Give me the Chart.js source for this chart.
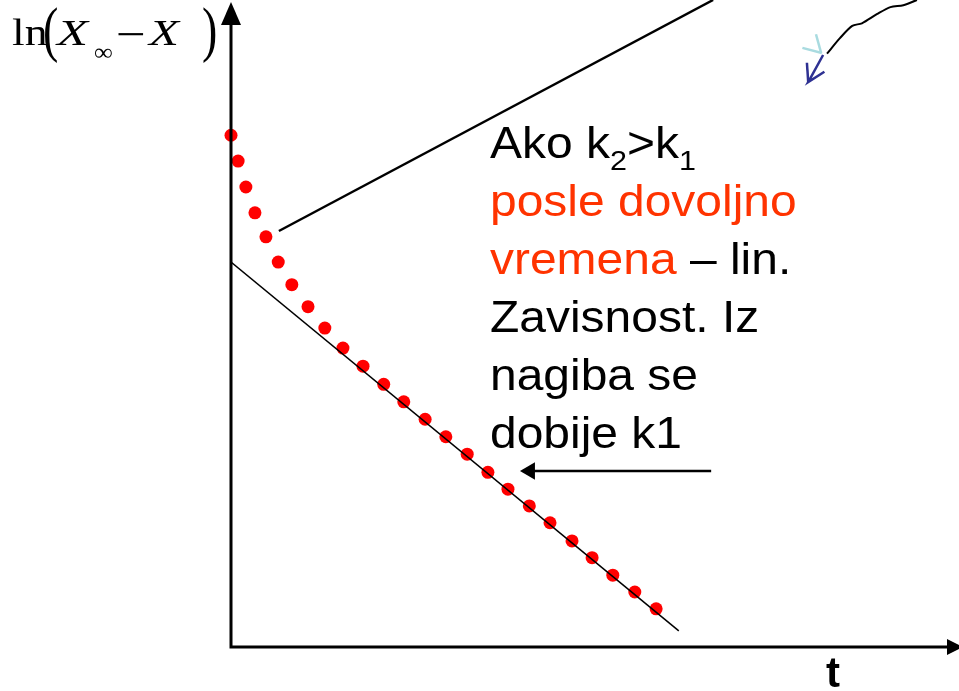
<!DOCTYPE html>
<html>
<head>
<meta charset="utf-8">
<script src="https://cdn.jsdelivr.net/npm/chart.js@4"></script>
<style>
  html, body { margin: 0; padding: 0; background: #fff; }
  canvas { display: block; }
</style>
</head>
<body>
<canvas id="grafik" width="959" height="691"></canvas>
<script>
// izmerene tacke: ln(Xinf - X) u zavisnosti od t
const vremena = [0, 0.11, 0.23, 0.37, 0.54, 0.73, 0.94, 1.19, 1.45, 1.73, 2.04, 2.36, 2.67,
  3.00, 3.32, 3.65, 3.97, 4.28, 4.61, 4.93, 5.27, 5.58, 5.90, 6.24, 6.57];
const lnVrednosti = [7.91, 7.51, 7.11, 6.71, 6.34, 5.95, 5.60, 5.26, 4.93, 4.62, 4.34, 4.06, 3.79,
  3.52, 3.25, 2.98, 2.70, 2.44, 2.18, 1.92, 1.64, 1.38, 1.11, 0.85, 0.59];

// prava za linearni deo (nagib -> k1)
const pravaT = [0, 6.92];
const pravaY = [5.95, 0.25];

// linija od teksta ka gornjem uglu
const gornjaT = [0.74, 7.45];
const gornjaY = [6.43, 10.0];

// krivulja u gornjem desnom uglu
const krivaT = [9.21, 9.41, 9.60, 9.75, 9.98, 10.19, 10.39, 10.60];
const krivaY = [9.17, 9.41, 9.60, 9.64, 9.78, 9.89, 9.92, 10.0];

// svetloplava i tamnoplava strelica
const svetlaT = [[8.83, 9.13], [9.04, 9.12]];
const svetlaY = [[9.26, 9.18], [9.47, 9.18]];
const tamnaT = [[9.15, 8.92, 9.17], [8.92, 8.90]];
const tamnaY = [[9.15, 8.73, 8.89], [8.73, 9.03]];

// strelica koja pokazuje na linearni deo
const strelicaT = [7.42, 4.60];
const strelicaY = [2.72, 2.72];
const vrhStreliceT = [4.62];
const vrhStreliceY = [2.72];

const tMax = 11.25;
const yMax = 10;

const tacke = (xs, ys) => xs.map((x, i) => ({ x: x, y: ys[i] }));

function linija(xs, ys, boja, debljina) {
  return {
    type: "line",
    data: tacke(xs, ys),
    borderColor: boja,
    borderWidth: debljina,
    pointRadius: 0,
    fill: false,
    tension: 0,
  };
}

const sans = 'Arial, "Liberation Sans", sans-serif';
const serif = '"Times New Roman", "Liberation Serif", serif';

// tekst razvucen po horizontali (sx) i vertikali (sy)
function razvucen(ctx, tekst, x, y, font, sx, sy) {
  ctx.save();
  ctx.translate(x, y);
  ctx.scale(sx, sy || 1);
  ctx.font = font;
  ctx.fillText(tekst, 0, 0);
  ctx.restore();
}

// crta niz delova teksta jedan za drugim u istom redu
function redTeksta(ctx, x, y, delovi) {
  ctx.save();
  ctx.translate(x, y);
  ctx.scale(1.09, 1);
  let px = 0;
  for (const d of delovi) {
    ctx.font = d.font;
    ctx.fillStyle = d.boja || "#000";
    ctx.fillText(d.tekst, px, d.dy || 0);
    px += ctx.measureText(d.tekst).width;
  }
  ctx.restore();
}

const oznake = {
  id: "oznake",
  afterDatasetsDraw(chart) {
    const ctx = chart.ctx;
    const a = chart.chartArea;
    ctx.save();

    // ose sa strelicama
    ctx.strokeStyle = "#000";
    ctx.fillStyle = "#000";
    ctx.lineWidth = 3;
    ctx.beginPath();
    ctx.moveTo(a.left, a.bottom);
    ctx.lineTo(a.left, a.top + 20);
    ctx.moveTo(a.left - 1.5, a.bottom);
    ctx.lineTo(a.right - 10, a.bottom);
    ctx.stroke();
    ctx.beginPath();
    ctx.moveTo(a.left, a.top + 2);
    ctx.lineTo(a.left - 10, a.top + 25);
    ctx.lineTo(a.left + 10, a.top + 25);
    ctx.closePath();
    ctx.fill();
    ctx.beginPath();
    ctx.moveTo(a.right + 4, a.bottom);
    ctx.lineTo(a.right - 12, a.bottom - 8);
    ctx.lineTo(a.right - 12, a.bottom + 8);
    ctx.closePath();
    ctx.fill();

    ctx.textBaseline = "alphabetic";

    // naziv y ose: ln(X∞ − X)
    razvucen(ctx, "ln", 12, 45, "38px " + serif, 1.2);
    razvucen(ctx, "(", 43, 50, "46px " + serif, 1, 1.35);
    razvucen(ctx, ")", 202, 50, "46px " + serif, 1, 1.35);
    razvucen(ctx, "X", 57, 45, "italic 35px " + serif, 1.45);
    razvucen(ctx, "X", 149, 45, "italic 35px " + serif, 1.4);
    razvucen(ctx, "∞", 94, 60, "24px " + serif, 1.1);
    razvucen(ctx, "−", 116, 49, "44px " + serif, 1.2);

    // naziv x ose
    ctx.font = "bold 42px " + sans;
    ctx.fillText("t", 826, 687);

    // objasnjenje
    const f = "44px " + sans;
    const fs = "28px " + sans;
    const crvena = "#ff3300";
    const x0 = 490;
    const korak = 58;
    redTeksta(ctx, x0, 158, [
      { tekst: "Ako k", font: f },
      { tekst: "2", font: fs, dy: 12 },
      { tekst: ">k", font: f },
      { tekst: "1", font: fs, dy: 12 },
    ]);
    redTeksta(ctx, x0, 158 + korak, [{ tekst: "posle dovoljno", font: f, boja: crvena }]);
    redTeksta(ctx, x0, 158 + 2 * korak, [
      { tekst: "vremena", font: f, boja: crvena },
      { tekst: " – lin.", font: f },
    ]);
    redTeksta(ctx, x0, 158 + 3 * korak, [{ tekst: "Zavisnost. Iz", font: f }]);
    redTeksta(ctx, x0, 158 + 4 * korak, [{ tekst: "nagiba se", font: f }]);
    redTeksta(ctx, x0, 158 + 5 * korak, [{ tekst: "dobije k1", font: f }]);

    ctx.restore();
  },
};

new Chart(document.getElementById("grafik"), {
  type: "scatter",
  data: {
    datasets: [
      linija(pravaT, pravaY, "#000", 1.5),
      linija(gornjaT, gornjaY, "#000", 2.5),
      Object.assign(linija(krivaT, krivaY, "#000", 2), { tension: 0.3 }),
      linija(svetlaT[0], svetlaY[0], "#a9dbe0", 2.5),
      linija(svetlaT[1], svetlaY[1], "#a9dbe0", 2.5),
      linija(tamnaT[0], tamnaY[0], "#2e3192", 2.5),
      linija(tamnaT[1], tamnaY[1], "#2e3192", 2.5),
      linija(strelicaT, strelicaY, "#000", 2.5),
      {
        data: tacke(vrhStreliceT, vrhStreliceY),
        pointStyle: "triangle",
        rotation: -90,
        pointRadius: 10,
        backgroundColor: "#000",
        borderColor: "#000",
        borderWidth: 0,
      },
      {
        data: tacke(vremena, lnVrednosti),
        pointRadius: 6.5,
        backgroundColor: "#ff0000",
        borderWidth: 0,
        clip: false,
      },
    ],
  },
  options: {
    responsive: false,
    animation: false,
    devicePixelRatio: 1,
    layout: { autoPadding: false, padding: { left: 231, top: 0, right: 0, bottom: 44 } },
    plugins: {
      legend: { display: false },
      tooltip: { enabled: false },
    },
    scales: {
      x: { type: "linear", min: 0, max: tMax, display: false },
      y: { type: "linear", min: 0, max: yMax, display: false },
    },
  },
  plugins: [oznake],
});
</script>
</body>
</html>
